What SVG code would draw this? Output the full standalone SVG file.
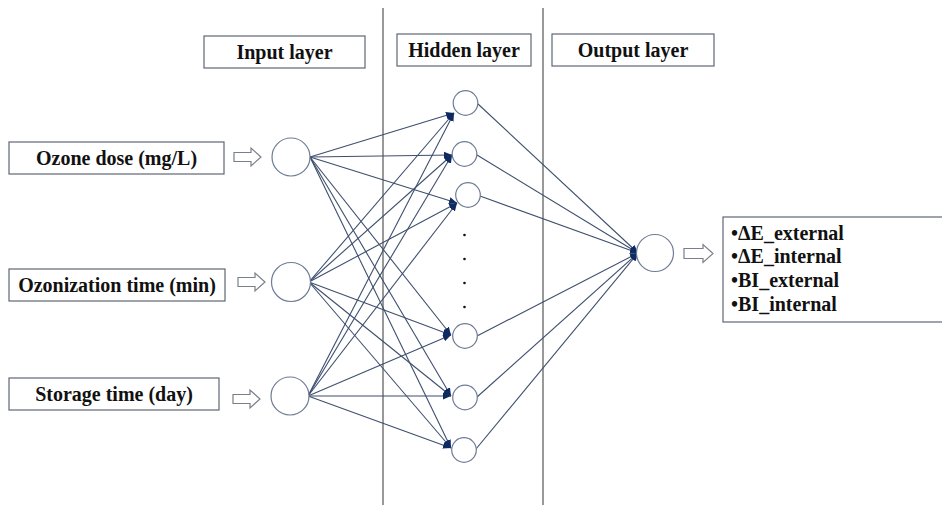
<svg xmlns="http://www.w3.org/2000/svg" width="942" height="505" viewBox="0 0 942 505">
<style>
.box{fill:#fff;stroke:#5f6673;stroke-width:1.2}
.t{font-family:'Liberation Serif','DejaVu Serif',serif;font-weight:bold;font-size:20px;fill:#111}
.node{fill:#fff;stroke:#6f7c96;stroke-width:1.2}
.arr{fill:#fff;stroke:#7a7f88;stroke-width:1.2}
.c line{stroke:#3e4f6e;stroke-width:1.1}
.c .a{marker-end:url(#ah)}
.vl{stroke:#555;stroke-width:1.2}
.dot{fill:#111}
</style>
<defs>
<marker id="ah" markerUnits="userSpaceOnUse" markerWidth="9" markerHeight="8" refX="8" refY="4" orient="auto">
<path d="M0,0.5 L8,4 L0,7.5 Z" fill="#0f2a62"/>
</marker>
</defs>
<rect width="942" height="505" fill="#fff"/>
<g id="dividers">
<line class="vl" x1="383" y1="8" x2="383" y2="505"/>
<line class="vl" x1="543" y1="8" x2="543" y2="505"/>
</g>
<g id="label-input-layer"><rect class="box" x="204" y="36" width="161" height="32"/><text class="t" font-family="Liberation Serif, serif" x="284.5" y="59" text-anchor="middle">Input layer</text></g>
<g id="label-hidden-layer"><rect class="box" x="397" y="34" width="134" height="32"/><text class="t" font-family="Liberation Serif, serif" x="464" y="57" text-anchor="middle">Hidden layer</text></g>
<g id="label-output-layer"><rect class="box" x="552" y="34" width="162" height="32"/><text class="t" font-family="Liberation Serif, serif" x="633" y="57" text-anchor="middle">Output layer</text></g>
<g id="connectors" class="c">
<line class="a" x1="310" y1="157" x2="454" y2="113"/>
<line class="a" x1="310" y1="157" x2="452" y2="155"/>
<line class="a" x1="310" y1="157" x2="457" y2="203"/>
<line class="a" x1="310" y1="157" x2="451" y2="335"/>
<line class="a" x1="310" y1="157" x2="451" y2="396"/>
<line class="a" x1="310" y1="157" x2="451" y2="448"/>
<line class="a" x1="309" y1="282" x2="454" y2="113"/>
<line class="a" x1="309" y1="282" x2="452" y2="155"/>
<line class="a" x1="309" y1="282" x2="457" y2="203"/>
<line class="a" x1="309" y1="282" x2="451" y2="335"/>
<line class="a" x1="309" y1="282" x2="451" y2="396"/>
<line class="a" x1="309" y1="282" x2="451" y2="448"/>
<line class="a" x1="308" y1="396" x2="454" y2="113"/>
<line class="a" x1="308" y1="396" x2="452" y2="155"/>
<line class="a" x1="308" y1="396" x2="457" y2="203"/>
<line class="a" x1="308" y1="396" x2="451" y2="335"/>
<line class="a" x1="308" y1="396" x2="451" y2="396"/>
<line class="a" x1="308" y1="396" x2="451" y2="448"/>
<line class="a" x1="478" y1="104" x2="638" y2="253"/>
<line class="a" x1="477" y1="155" x2="638" y2="253"/>
<line class="a" x1="480" y1="196" x2="638" y2="253"/>
<line class="a" x1="477" y1="336" x2="638" y2="253"/>
<line class="a" x1="477" y1="397" x2="638" y2="253"/>
<line class="a" x1="476" y1="449" x2="638" y2="253"/>
</g>
<g id="in-ozone-dose"><rect class="box" x="9" y="142" width="215" height="32"/><text class="t" font-family="Liberation Serif, serif" x="116.5" y="165" text-anchor="middle">Ozone dose (mg/L)</text>
<path class="arr" d="M234,152.5 H251 V148 L261,157 L251,166 V161.5 H234 Z"/></g>
<g id="in-ozonization-time"><rect class="box" x="9" y="269" width="216" height="32"/><text class="t" font-family="Liberation Serif, serif" x="117" y="292" text-anchor="middle">Ozonization time (min)</text>
<path class="arr" d="M238,277.5 H255 V273 L265,282 L255,291 V286.5 H238 Z"/></g>
<g id="in-storage-time"><rect class="box" x="9" y="378" width="210" height="32"/><text class="t" font-family="Liberation Serif, serif" x="114" y="401" text-anchor="middle">Storage time (day)</text>
<path class="arr" d="M233,394.5 H250 V390 L260,399 L250,408 V403.5 H233 Z"/></g>
<g id="input-node-1"><circle class="node" cx="291" cy="157" r="19"/></g>
<g id="input-node-2"><circle class="node" cx="291" cy="282" r="19.5"/></g>
<g id="input-node-3"><circle class="node" cx="290" cy="396" r="19"/></g>
<g id="hidden-node-1"><circle class="node" cx="465.5" cy="103" r="12.3"/></g>
<g id="hidden-node-2"><circle class="node" cx="464.5" cy="154" r="12.3"/></g>
<g id="hidden-node-3"><circle class="node" cx="468" cy="195" r="12.3"/></g>
<g id="hidden-dots">
<circle class="dot" cx="464.5" cy="235" r="1.3"/>
<circle class="dot" cx="464.5" cy="259" r="1.3"/>
<circle class="dot" cx="464.5" cy="283" r="1.3"/>
<circle class="dot" cx="464.5" cy="307" r="1.3"/>
</g>
<g id="hidden-node-4"><circle class="node" cx="465" cy="336" r="12.3"/></g>
<g id="hidden-node-5"><circle class="node" cx="465" cy="397.5" r="12.3"/></g>
<g id="hidden-node-6"><circle class="node" cx="464" cy="450" r="12.3"/></g>
<g id="output-node"><circle class="node" cx="655" cy="253" r="18.5"/>
<path class="arr" d="M684,248.5 H703 V244.5 L713,253.5 L703,262.5 V258.5 H684 Z"/></g>
<g id="outputs"><rect class="box" x="723" y="217" width="225" height="105"/>
<text class="t" font-family="Liberation Serif, serif" x="731" y="240">•ΔE_external</text>
<text class="t" font-family="Liberation Serif, serif" x="731" y="263">•ΔE_internal</text>
<text class="t" font-family="Liberation Serif, serif" x="731" y="287">•BI_external</text>
<text class="t" font-family="Liberation Serif, serif" x="731" y="311">•BI_internal</text>
</g>
</svg>
